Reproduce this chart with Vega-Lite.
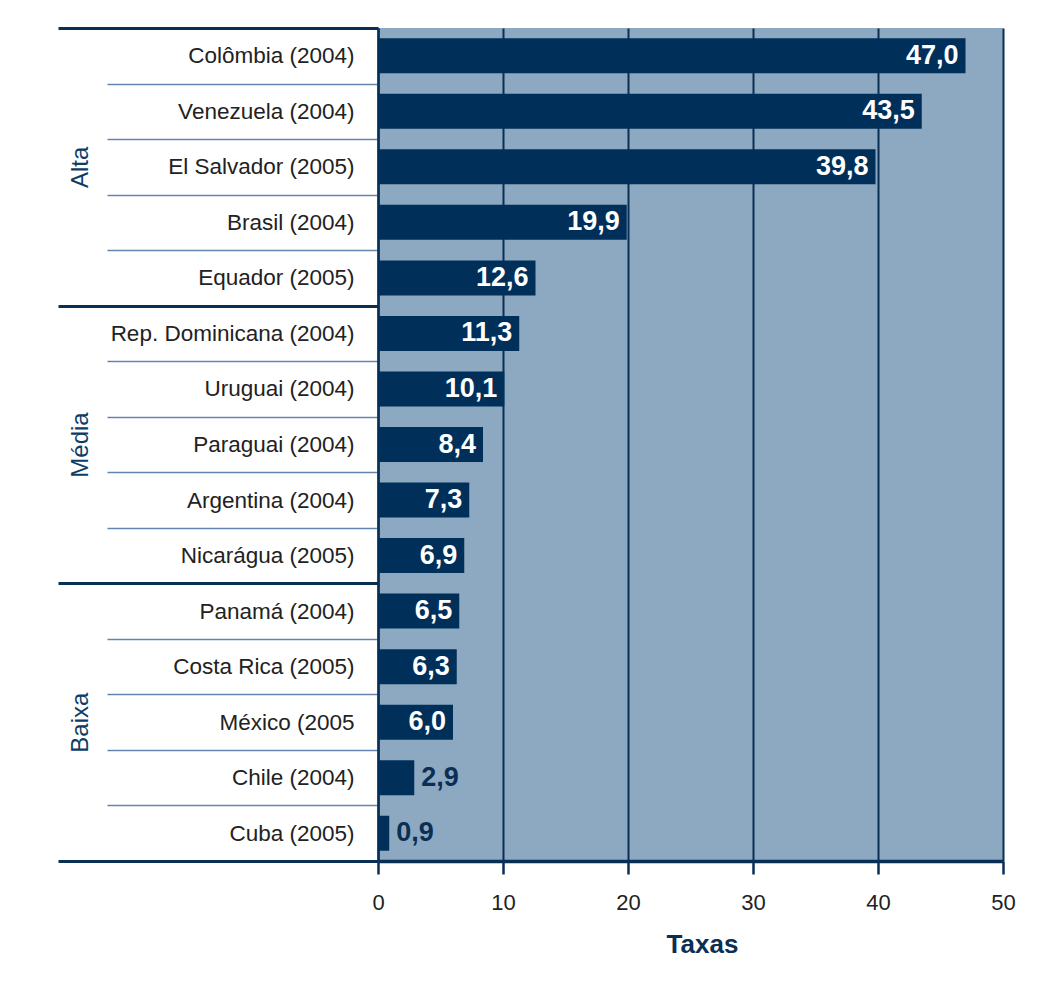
{
  "$schema": "https://vega.github.io/schema/vega-lite/v6.json",
  "width": 625,
  "height": 833,
  "padding": {"left": 56, "top": 17, "right": 5, "bottom": 5},
  "background": "white",
  "config": {
    "locale": {"number": {"decimal": ",", "thousands": ".", "grouping": [3], "currency": ["", ""]}},
    "view": {"fill": "#8DA8C1", "stroke": null},
    "font": "Liberation Sans"
  },
  "data": {
    "values": [
      {"country": "Colômbia (2004)", "value": 47.0, "group": "Alta"},
      {"country": "Venezuela (2004)", "value": 43.5, "group": "Alta"},
      {"country": "El Salvador (2005)", "value": 39.8, "group": "Alta"},
      {"country": "Brasil (2004)", "value": 19.9, "group": "Alta"},
      {"country": "Equador (2005)", "value": 12.6, "group": "Alta"},
      {"country": "Rep. Dominicana (2004)", "value": 11.3, "group": "Média"},
      {"country": "Uruguai (2004)", "value": 10.1, "group": "Média"},
      {"country": "Paraguai (2004)", "value": 8.4, "group": "Média"},
      {"country": "Argentina (2004)", "value": 7.3, "group": "Média"},
      {"country": "Nicarágua (2005)", "value": 6.9, "group": "Média"},
      {"country": "Panamá (2004)", "value": 6.5, "group": "Baixa"},
      {"country": "Costa Rica (2005)", "value": 6.3, "group": "Baixa"},
      {"country": "México (2005", "value": 6.0, "group": "Baixa"},
      {"country": "Chile (2004)", "value": 2.9, "group": "Baixa"},
      {"country": "Cuba (2005)", "value": 0.9, "group": "Baixa"}
    ]
  },
  "layer": [
    {
      "encoding": {
        "y": {
          "field": "country",
          "type": "nominal",
          "sort": ["Colômbia (2004)", "Venezuela (2004)", "El Salvador (2005)", "Brasil (2004)", "Equador (2005)", "Rep. Dominicana (2004)", "Uruguai (2004)", "Paraguai (2004)", "Argentina (2004)", "Nicarágua (2005)", "Panamá (2004)", "Costa Rica (2005)", "México (2005", "Chile (2004)", "Cuba (2005)"],
          "scale": {"paddingInner": 0, "paddingOuter": 0},
          "axis": {
            "orient": "left",
            "title": null,
            "tickBand": "extent",
            "tickSize": 271,
            "tickWidth": 1.5,
            "tickColor": "#6486AE",
            "labelPadding": -247,
            "labelFontSize": 22.5,
            "labelColor": "#222222",
            "labelLimit": 400,
            "domainColor": "#0A2F55",
            "domainWidth": 2.5,
            "zindex": 0
          }
        },
        "x": {
          "field": "value",
          "type": "quantitative",
          "scale": {"domain": [0, 50], "nice": false},
          "axis": {
            "values": [0, 10, 20, 30, 40, 50],
            "format": "d",
            "labelFlush": false,
            "grid": true,
            "gridColor": "#0A2F55",
            "gridWidth": 2,
            "domainColor": "#0A2F55",
            "domainWidth": 3.5,
            "tickColor": "#0A2F55",
            "tickWidth": 2.5,
            "tickSize": 13,
            "labelFontSize": 22,
            "labelColor": "#222222",
            "labelPadding": 18,
            "title": "Taxas",
            "titleFontSize": 26,
            "titleFontWeight": "bold",
            "titleColor": "#0A2F55",
            "titlePadding": 18,
            "titleX": 324
          }
        }
      },
      "layer": [
        {"mark": {"type": "bar", "color": "#00305A", "height": {"band": 0.63}}},
        {
          "transform": [{"filter": "datum.value >= 5"}],
          "mark": {"type": "text", "align": "right", "baseline": "middle", "dx": -7, "color": "white", "fontSize": 27, "fontWeight": "bold"},
          "encoding": {"text": {"field": "value", "type": "quantitative", "format": ".1f"}}
        },
        {
          "transform": [{"filter": "datum.value < 5"}],
          "mark": {"type": "text", "align": "left", "baseline": "middle", "dx": 7, "color": "#0A2F55", "fontSize": 27, "fontWeight": "bold"},
          "encoding": {"text": {"field": "value", "type": "quantitative", "format": ".1f"}}
        }
      ]
    },
    {
      "mark": {"type": "point", "opacity": 0},
      "encoding": {
        "y": {
          "field": "group",
          "type": "nominal",
          "sort": ["Alta", "Média", "Baixa"],
          "scale": {"paddingInner": 0, "paddingOuter": 0},
          "axis": {
            "orient": "left",
            "title": null,
            "domain": false,
            "tickBand": "extent",
            "tickSize": 320,
            "tickWidth": 3,
            "tickColor": "#0A2F55",
            "labelAngle": -90,
            "labelAlign": "center",
            "labelBaseline": "middle",
            "labelPadding": -22,
            "labelFontSize": 24,
            "labelColor": "#0D3D66",
            "zindex": 1
          }
        }
      }
    }
  ],
  "resolve": {"scale": {"y": "independent"}}
}
